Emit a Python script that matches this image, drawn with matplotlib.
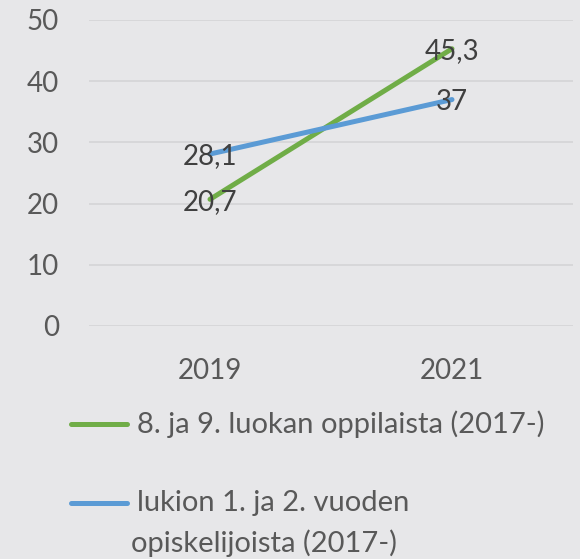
import matplotlib
matplotlib.use("Agg")
import matplotlib.pyplot as plt
from matplotlib.lines import Line2D

plt.rcParams['font.family'] = ['Lato', 'DejaVu Sans']

years = ["2019", "2021"]
series_names = ["8. ja 9. luokan oppilaista (2017-)",
                "lukion 1. ja 2. vuoden\nopiskelijoista (2017-)"]
green_vals = [20.7, 45.3]
blue_vals = [28.1, 37.0]
y_ticks = [0, 10, 20, 30, 40, 50]

BG = '#E7E7E9'
GREEN = '#70AD47'
BLUE = '#5B9BD5'
FS = 20

fig = plt.figure(figsize=(5.8, 5.59), dpi=100, facecolor=BG)
ax = fig.add_axes([89/580, 1-326/559, (573-89)/580, (326-20)/559])
ax.set_facecolor(BG)

x = list(range(len(years)))
ax.plot(x, green_vals, color=GREEN, lw=3.6, solid_capstyle='round', zorder=3)
ax.plot(x, blue_vals, color=BLUE, lw=3.6, solid_capstyle='round', zorder=3)

def fmt(v):
    s = f"{v:.1f}".replace('.', ',')
    return s[:-2] if s.endswith(',0') else s

for vals in (green_vals, blue_vals):
    for xi, v in zip(x, vals):
        ax.text(xi, v, fmt(v), ha='center', va='center_baseline', fontsize=FS,
                color='#404040', zorder=4)

ax.set_xlim(-0.5, 1.5)
ax.set_ylim(0, 50)
ax.set_yticks(y_ticks)
ax.set_xticks(x)
ax.set_xticklabels(years)
ax.tick_params(axis='both', length=0, labelsize=FS, labelcolor='#595959')
ax.tick_params(axis='y', pad=21.6)
ax.tick_params(axis='x', pad=23)
ax.grid(axis='y', color='#D6D6D8', lw=1.3)
ax.set_axisbelow(True)
for s in ax.spines.values():
    s.set_visible(False)

# legend (drawn manually to match the original layout)
colors = [GREEN, BLUE]
legend_y = [1-424/559, 1-503/559]
for name, c, ly in zip(series_names, colors, legend_y):
    fig.add_artist(Line2D([71/580, 127/580], [ly, ly], color=c, lw=3.6,
                          solid_capstyle='round', transform=fig.transFigure))
    lines = name.split('\n')
    fig.text(137/580, ly, lines[0], ha='left', va='center', fontsize=FS + 1,
             color='#595959')
    if len(lines) > 1:
        fig.text(131/580, 1-543/559, lines[1], ha='left', va='center',
                 fontsize=FS + 1, color='#595959')

fig.savefig('out.png', dpi=100, facecolor=BG)
